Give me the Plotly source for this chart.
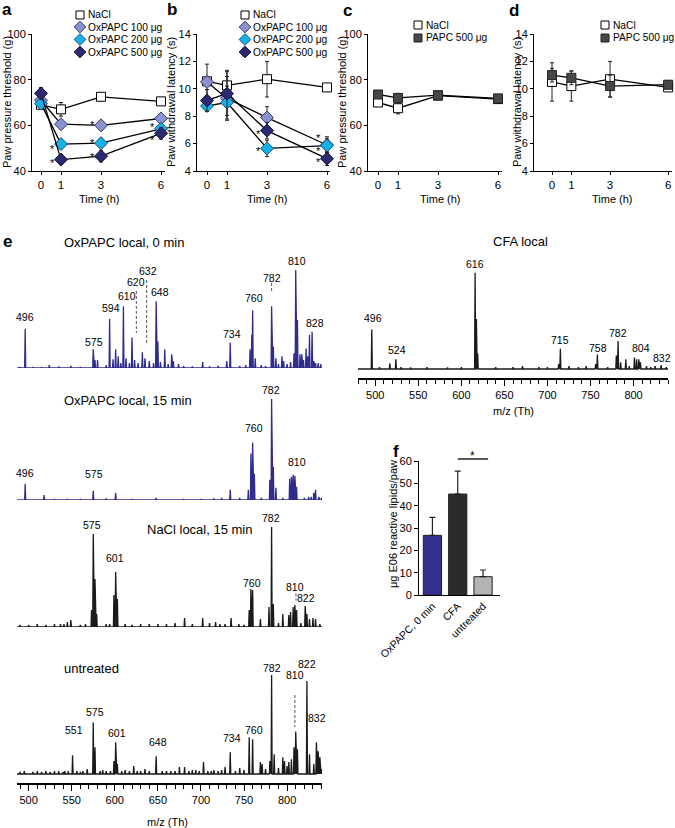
import plotly.graph_objects as go

W, H = 675, 828
FONT = "Liberation Sans, Arial, Helvetica, sans-serif"

# ======================= DATA =======================
time_h = [0, 1, 3, 6]

# a: paw pressure threshold (g)
a_nacl = [69.0, 67.0, 72.5, 70.5]
a_nacl_err = [2.0, 3.0, 1.5, 1.5]
a_ox100 = [71.0, 60.5, 60.0, 63.0]
a_ox100_err = [2.0, 2.0, 2.0, 1.5]
a_ox200 = [69.5, 51.8, 52.2, 58.5]
a_ox200_err = [2.0, 2.0, 2.0, 2.0]
a_ox500 = [74.0, 45.0, 46.5, 56.5]
a_ox500_err = [2.5, 2.0, 2.5, 2.5]

# b: paw withdrawal latency (s)
b_nacl = [10.55, 10.25, 10.7, 10.1]
b_nacl_err = [1.25, 1.1, 1.3, 0.25]
b_ox100 = [10.5, 9.3, 7.9, 5.9]
b_ox100_err = [0.3, 1.6, 0.8, 0.6]
b_ox200 = [8.75, 9.0, 5.65, 5.85]
b_ox200_err = [0.25, 1.2, 0.6, 0.5]
b_ox500 = [9.15, 9.65, 6.95, 4.9]
b_ox500_err = [0.8, 1.6, 0.6, 0.5]

# c: paw pressure threshold (g), PAPC control
c_nacl = [70.0, 67.5, 73.0, 71.5]
c_nacl_err = [1.5, 2.5, 1.0, 1.0]
c_papc = [73.5, 72.0, 73.2, 71.8]
c_papc_err = [1.5, 2.0, 1.0, 0.8]

# d: paw withdrawal latency (s), PAPC control
d_nacl = [10.5, 10.2, 10.7, 10.1]
d_nacl_err = [1.4, 1.1, 1.3, 0.2]
d_papc = [11.0, 10.8, 10.2, 10.3]
d_papc_err = [0.5, 0.5, 0.8, 0.3]

# significance stars: (series, time, y offset)
a_stars = [("ox200", 1, -0.8), ("ox500", 1, 0.0), ("ox100", 3, 1.5), ("ox200", 3, 1.5),
           ("ox500", 3, 0.8), ("ox200", 6, 1.9), ("ox500", 6, -1.6)]
b_stars = [("ox500", 3, 0.0), ("ox200", 3, 0.0), ("ox100", 6, 0.7), ("ox200", 6, -0.2),
           ("ox500", 6, 0.0)]

# e: mass spectra (m/z, relative intensity %)
ox0_mz = [490, 496, 505, 515, 524, 535, 549, 560, 575, 577, 580, 590, 594, 598, 601, 604, 607, 610,
          613, 617, 620, 623, 627, 632, 635, 640, 645, 648, 650, 653, 658, 662, 666, 668, 674, 680,
          690, 702, 710, 720, 730, 734, 745, 752, 757, 759, 760, 763, 770, 775, 782, 784, 787, 790,
          794, 796, 800, 804, 808, 810, 812, 815, 817, 819, 822, 824, 826, 829, 831, 833, 836, 839]
ox0_int = [1, 40, 1, 1, 3, 1.5, 2, 1, 19, 8, 8, 3, 50, 9, 19, 12, 5, 63,
           10, 5, 31, 8, 5, 16, 10, 7, 5, 68, 27, 6, 19, 4, 14, 7, 4, 2,
           1.5, 6, 1.5, 2, 7, 26, 2, 3, 19, 34, 59, 10, 3, 2, 63, 22, 10, 4,
           12, 7, 4, 6, 15, 100, 49, 14, 14, 8, 20, 12, 34, 37, 7, 5, 5, 4]

ox15_mz = [496, 518, 530, 545, 560, 575, 590, 601, 620, 648, 680, 700, 715, 724, 734, 745, 755, 758,
           760, 762, 770, 780, 782, 784, 787, 795, 803, 805, 807, 809, 811, 820, 825, 828, 831, 833,
           837, 840]
ox15_int = [16, 5, 1, 1, 1, 9, 1.5, 7, 1, 2, 1, 1, 1.5, 2, 10, 2, 10, 46,
            57, 26, 2, 20, 100, 33, 12, 2, 21, 23, 25, 24, 13, 2, 3, 3, 7, 10,
            3, 2]

nacl_mz = [490, 500, 510, 520, 530, 537, 541, 545, 549, 560, 566, 573, 575, 577, 579, 590, 594, 599,
           601, 603, 612, 620, 630, 640, 650, 660, 670, 681, 690, 702, 710, 717, 722, 728, 735, 744,
           750, 756, 758, 760, 769, 779, 782, 784, 790, 795, 802, 804, 807, 809, 811, 816, 821, 823,
           826, 830, 833, 838]
nacl_int = [2, 2, 3, 2, 3, 3, 3, 5, 7, 2, 3, 17, 93, 48, 13, 3, 3, 32,
            55, 28, 3, 2, 3, 3, 3, 3, 4, 9, 3, 9, 4, 5, 3, 3, 9, 3,
            2, 17, 38, 37, 8, 20, 100, 23, 4, 13, 12, 15, 20, 22, 17, 4, 21, 13,
            8, 9, 8, 3]

untr_mz = [490, 495, 505, 510, 515, 520, 525, 530, 535, 540, 542, 546, 551, 556, 560, 563, 568, 575,
           577, 583, 586, 590, 595, 599, 601, 603, 608, 612, 617, 622, 626, 630, 635, 640, 648, 655,
           660, 665, 670, 675, 681, 686, 690, 694, 698, 703, 708, 712, 715, 720, 724, 728, 734, 740,
           745, 750, 756, 760, 769, 771, 775, 780, 782, 785, 790, 795, 797, 800, 802, 805, 808, 810,
           812, 823, 826, 831, 834, 836, 838, 840]
untr_int = [2, 3, 2, 3, 2, 3, 2, 3, 3, 2, 3, 3, 19, 3, 2, 3, 5, 52,
            27, 3, 4, 3, 3, 13, 32, 10, 3, 4, 3, 8, 3, 3, 5, 3, 18, 3,
            3, 3, 3, 7, 7, 3, 4, 4, 3, 12, 3, 3, 4, 3, 4, 7, 22, 3,
            6, 4, 37, 35, 12, 10, 5, 13, 100, 20, 6, 17, 13, 8, 12, 15, 27, 43,
            25, 94, 20, 10, 32, 23, 17, 5]

cfa_mz = [496, 505, 517, 524, 530, 541, 560, 584, 600, 616, 617.5, 619, 640, 660, 671, 690, 700, 713,
          715, 725, 736, 745, 756, 758, 770, 780, 782, 785, 791, 795, 801, 803.5, 806, 808, 815, 820,
          825, 832, 838]
cfa_int = [41, 2, 6, 10, 2, 1.5, 2, 1.5, 2, 100, 52, 16, 2, 2, 3, 2, 2, 5,
           21, 3, 2, 3, 5, 15, 2, 14, 29, 7, 10, 3, 12, 10, 10, 7, 3, 2,
           3, 4, 2]

# peak labels: (text, m/z position, label height in intensity units)
ox0_labels = [("496", 496, 52), ("575", 576, 26.5), ("594", 596, 61), ("610", 614, 73.5),
              ("620", 625, 87.5), ("632", 639, 99), ("648", 652, 77.5), ("734", 736, 34.7),
              ("760", 761, 71.4), ("782", 782, 91.8), ("810", 811, 109), ("828", 832, 46)]
ox15_labels = [("496", 496, 26.7), ("575", 576, 25.7), ("760", 761, 71.3), ("782", 781, 109),
               ("810", 811, 37.6)]
nacl_labels = [("575", 574, 102), ("601", 600, 69), ("760", 759, 44), ("782", 781, 109),
               ("810", 809, 40.3), ("822", 822.5, 28.7)]
untr_labels = [("551", 552.5, 44.4), ("575", 577, 62.6), ("601", 603, 41.4), ("648", 650, 32.3),
               ("734", 736, 36.4), ("760", 761, 44.4), ("782", 782, 107), ("810", 809, 100),
               ("822", 823, 111), ("832", 834.5, 56.6)]
cfa_labels = [("496", 497.5, 53), ("524", 525.5, 19.7), ("616", 616, 109), ("715", 714.5, 30),
              ("758", 758.5, 21.8), ("782", 782, 37.4), ("804", 808.5, 21.8), ("832", 833, 11.4)]

# dashed leader lines: (m/z, from, to) in intensity units
ox0_dashes = [(625, 78.6, 35.7), (637, 89.8, 23.5), (782, 86.7, 77.5)]
nacl_dashes = [(810.3, 33.5, 26.5)]
untr_dashes = [(809, 79.8, 47.5)]

# f: E06 reactive lipids
f_groups = ["OxPAPC, 0 min", "CFA", "untreated"]
f_values = [26.7, 45.2, 8.2]
f_err = [8.1, 10.3, 3.0]

# ======================= STYLE / LAYOUT =======================
C_NACL = "white"
C_OX100 = "#8993cf"
C_OX200 = "#17b1ea"
C_OX500 = "#2d2970"
C_PAPC = "#474747"
C_BLUE = "#2f2c8c"
C_BLACK = "#1a1a1a"
F_COLORS = ["#33308f", "#2b2b2b", "#b4b4b4"]


def fx(p):
    return p / W


def fy(p):
    return 1 - p / H


def A(n, letter):
    return letter + "axis" if n == 1 else f"{letter}axis{n}"


def R(n, letter):
    return letter if n == 1 else f"{letter}{n}"


fig = go.Figure()
L = dict(template="none", width=W, height=H, autosize=False,
         margin=dict(l=0, r=0, t=0, b=0, pad=0, autoexpand=False), paper_bgcolor="white",
         plot_bgcolor="rgba(0,0,0,0)", showlegend=False,
         font=dict(family=FONT, color="black", size=11))
ann = []
shp = []

AXB = dict(showline=True, linecolor="black", linewidth=1, showgrid=False, zeroline=False,
           automargin=False, ticks="outside", ticklen=4, tickwidth=1, tickcolor="black",
           tickfont=dict(size=11, color="black"), fixedrange=True)


def behaviour_axes(n, x0, x1, xr, yr, yt):
    L[A(n, "x")] = dict(AXB, domain=[fx(x0), fx(x1)], range=xr, anchor=R(n, "y"), tickvals=time_h,
                        ticklen=3, tickfont=dict(size=11.5, color="black"))
    L[A(n, "y")] = dict(AXB, domain=[fy(171), fy(34)], range=yr, anchor=R(n, "x"), tickvals=yt,
                        ticklen=3)


def series(n, y, err, symbol, fill, edge, size):
    fig.add_trace(go.Scatter(
        x=time_h, y=y, xaxis=R(n, "x"), yaxis=R(n, "y"), mode="lines+markers",
        line=dict(color="black", width=1.3),
        marker=dict(symbol=symbol, size=size, color=fill, line=dict(color=edge, width=1)),
        error_y=dict(type="data", array=err, visible=True, color="#222222", thickness=1, width=2),
        cliponaxis=False, hoverinfo="skip"))


def stars(n, spec, table, dx):
    for key, t, dy in spec:
        i = time_h.index(t)
        ann.append(dict(text="*", x=t + dx, y=table[key][i] + dy, xref=R(n, "x"), yref=R(n, "y"),
                        showarrow=False, font=dict(size=11), yshift=-3))


# panel a
behaviour_axes(1, 32, 165, [-0.45, 6.2], [40, 100], [40, 60, 80, 100])
series(1, a_nacl, a_nacl_err, "square", C_NACL, "black", 9)
series(1, a_ox100, a_ox100_err, "diamond", C_OX100, "#3a3a6a", 10)
series(1, a_ox200, a_ox200_err, "diamond", C_OX200, "#1d4f7a", 10)
series(1, a_ox500, a_ox500_err, "diamond", C_OX500, "#15123a", 10)
stars(1, a_stars, {"ox100": a_ox100, "ox200": a_ox200, "ox500": a_ox500}, -0.42)

# panel b
behaviour_axes(2, 197, 330, [-0.5, 6.15], [4, 14], [4, 6, 8, 10, 12, 14])
series(2, b_nacl, b_nacl_err, "square", C_NACL, "black", 9)
series(2, b_ox100, b_ox100_err, "diamond", C_OX100, "#3a3a6a", 10)
series(2, b_ox200, b_ox200_err, "diamond", C_OX200, "#1d4f7a", 10)
series(2, b_ox500, b_ox500_err, "diamond", C_OX500, "#15123a", 10)
stars(2, b_stars, {"ox100": b_ox100, "ox200": b_ox200, "ox500": b_ox500}, -0.42)

# panel c
behaviour_axes(3, 368, 502, [-0.5, 6.2], [40, 100], [40, 60, 80, 100])
series(3, c_nacl, c_nacl_err, "square", C_NACL, "black", 9)
series(3, c_papc, c_papc_err, "square", C_PAPC, "#222222", 9)

# panel d
behaviour_axes(4, 534, 672, [-0.93, 6.2], [4, 14], [4, 6, 8, 10, 12, 14])
series(4, d_nacl, d_nacl_err, "square", C_NACL, "black", 9)
series(4, d_papc, d_papc_err, "square", C_PAPC, "#222222", 9)

# behaviour titles
for x, y, t in [(7, 102, "Paw pressure threshold (g)"), (171, 102, "Paw withdrawal latency (s)"),
                (342, 102, "Paw pressure threshold (g)"), (517, 102, "Paw withdrawal latency (s)")]:
    ann.append(dict(text=t, x=fx(x), y=fy(y), xref="paper", yref="paper", showarrow=False,
                    textangle=-90, font=dict(size=11), xanchor="center", yanchor="middle"))
for x in [99, 267, 440, 612]:
    ann.append(dict(text="Time (h)", x=fx(x), y=fy(199), xref="paper", yref="paper",
                    showarrow=False, font=dict(size=11), xanchor="center", yanchor="middle"))

# panel letters
for x, y, t in [(7, 9, "a"), (172, 9, "b"), (347, 10, "c"), (514, 10, "d"), (7, 242, "e"),
                (396, 451, "f")]:
    ann.append(dict(text="<b>" + t + "</b>", x=fx(x), y=fy(y), xref="paper", yref="paper",
                    showarrow=False, font=dict(size=17), xanchor="center", yanchor="middle"))

# legends (overlay axis in pixel units)
L["xaxis11"] = dict(domain=[0, 1], range=[0, W], visible=False, anchor="y11", fixedrange=True,
                    automargin=False)
L["yaxis11"] = dict(domain=[0, 1], range=[H, 0], visible=False, anchor="x11", fixedrange=True,
                    automargin=False)
legend_rows = [
    (80, 86, 15, "NaCl", "square", C_NACL, "black"),
    (80, 86, 27, "OxPAPC 100 μg", "diamond", C_OX100, "#3a3a6a"),
    (80, 86, 39.5, "OxPAPC 200 μg", "diamond", C_OX200, "#1d4f7a"),
    (80, 86, 52, "OxPAPC 500 μg", "diamond", C_OX500, "#15123a"),
    (245, 251, 15, "NaCl", "square", C_NACL, "black"),
    (245, 251, 27, "OxPAPC 100 μg", "diamond", C_OX100, "#3a3a6a"),
    (245, 251, 39.5, "OxPAPC 200 μg", "diamond", C_OX200, "#1d4f7a"),
    (245, 251, 52, "OxPAPC 500 μg", "diamond", C_OX500, "#15123a"),
    (418, 424, 25, "NaCl", "square", C_NACL, "black"),
    (418, 424, 38, "PAPC 500 μg", "square", C_PAPC, "#222222"),
    (605, 611, 25, "NaCl", "square", C_NACL, "black"),
    (605, 611, 38, "PAPC 500 μg", "square", C_PAPC, "#222222"),
]
for mx, tx, y, t, sym, fill, edge in legend_rows:
    fig.add_trace(go.Scatter(x=[mx], y=[y], xaxis="x11", yaxis="y11", mode="markers",
                             marker=dict(symbol=sym, size=8 if sym == "square" else 9, color=fill,
                                         line=dict(color=edge, width=1)),
                             hoverinfo="skip", cliponaxis=False))
    ann.append(dict(text=t, x=fx(tx), y=fy(y), xref="paper", yref="paper", showarrow=False,
                    font=dict(size=10.2), xanchor="left", yanchor="middle"))

# ---------------- spectra ----------------
LX = [486.5, 840.5]
RX = [480, 840]
YMAX = 116


def spectrum(n, mz, inten, color, xdom, xr, base_px, scale, axis_px=None):
    if axis_px is None:
        ymin, bottom = 0, base_px
    else:
        ymin, bottom = -(axis_px - base_px) / scale, axis_px
    top = base_px - YMAX * scale
    L[A(n, "y")] = dict(domain=[fy(bottom), fy(top)], range=[ymin, YMAX], visible=False,
                        anchor=R(n, "x"), fixedrange=True, automargin=False)
    if axis_px is None:
        L[A(n, "x")] = dict(domain=[fx(xdom[0]), fx(xdom[1])], range=xr, visible=False,
                            anchor=R(n, "y"), fixedrange=True, automargin=False)
    else:
        L[A(n, "x")] = dict(domain=[fx(xdom[0]), fx(xdom[1])], range=xr, anchor=R(n, "y"),
                            showline=True, linecolor="black", linewidth=1.5, showgrid=False,
                            zeroline=False, ticks="outside", ticklen=6, tickwidth=1,
                            tickcolor="black", tick0=500, dtick=50, automargin=False,
                            minor=dict(ticks="outside", ticklen=4, tickwidth=1, tickcolor="black",
                                       dtick=10, tick0=490, showgrid=False),
                            tickfont=dict(size=11, color="black"), fixedrange=True)
    pairs = sorted(zip(mz, inten))
    xs, ys = [xr[0]], [0]
    for m, v in pairs:
        xs += [m - 0.6, m, m + 0.6]
        ys += [0, v, 0]
    xs.append(xr[1])
    ys.append(0)
    fig.add_trace(go.Scatter(x=xs, y=ys, xaxis=R(n, "x"), yaxis=R(n, "y"), mode="lines",
                             fill="tozeroy", fillcolor=color, line=dict(color=color, width=1.3),
                             hoverinfo="skip"))


def peak_labels(n, labels, dashes):
    for t, x, lev in labels:
        ann.append(dict(text=t, x=x, y=lev, xref=R(n, "x"), yref=R(n, "y"), showarrow=False,
                        font=dict(size=10.5), xanchor="center", yanchor="middle"))
    for x, y0, y1 in dashes:
        shp.append(dict(type="line", x0=x, x1=x, y0=y0, y1=y1, xref=R(n, "x"), yref=R(n, "y"),
                        line=dict(color="#555555", width=1, dash="3px,2px")))


spectrum(5, ox0_mz, ox0_int, C_BLUE, (17, 322), LX, 368, 0.98)
peak_labels(5, ox0_labels, ox0_dashes)
spectrum(6, ox15_mz, ox15_int, C_BLUE, (17, 322), LX, 500, 1.01)
peak_labels(6, ox15_labels, [])
spectrum(7, nacl_mz, nacl_int, C_BLACK, (17, 322), LX, 627, 1.0)
peak_labels(7, nacl_labels, nacl_dashes)
spectrum(8, untr_mz, untr_int, C_BLACK, (17, 322), LX, 774, 0.99, axis_px=783)
peak_labels(8, untr_labels, untr_dashes)
spectrum(9, cfa_mz, cfa_int, C_BLACK, (358, 668), RX, 369, 0.963, axis_px=378)
peak_labels(9, cfa_labels, [])

for x, y, t, anchor in [(62, 243, "OxPAPC local, 0 min", "left"),
                        (62, 401, "OxPAPC local, 15 min", "left"),
                        (145, 529, "NaCl local, 15 min", "left"),
                        (62, 668, "untreated", "left"),
                        (520, 242, "CFA local", "center")]:
    ann.append(dict(text=t, x=fx(x), y=fy(y), xref="paper", yref="paper", showarrow=False,
                    font=dict(size=13), xanchor=anchor, yanchor="middle"))
for x, y in [(167, 822), (513, 411)]:
    ann.append(dict(text="m/z (Th)", x=fx(x), y=fy(y), xref="paper", yref="paper",
                    showarrow=False, font=dict(size=11), xanchor="center", yanchor="middle"))

# ---------------- panel f ----------------
f_idx = list(range(len(f_groups)))
L["xaxis10"] = dict(domain=[fx(419), fx(500)], range=[-0.53, 2.67], anchor="y10", tickvals=f_idx,
                    ticktext=f_groups, tickangle=-45, showline=True, linecolor="black",
                    linewidth=1, ticks="", showgrid=False, zeroline=False, automargin=False,
                    tickfont=dict(size=10.5, color="black"), fixedrange=True)
L["yaxis10"] = dict(AXB, domain=[fy(595), fy(461)], range=[0, 60], anchor="x10",
                    tickvals=[0, 10, 20, 30, 40, 50, 60])
fig.add_trace(go.Bar(x=f_idx, y=f_values, width=0.72, xaxis="x10", yaxis="y10",
                     marker=dict(color=F_COLORS, line=dict(color="#222222", width=1)),
                     error_y=dict(type="data", symmetric=False, array=f_err,
                                  arrayminus=[0] * len(f_err), color="#222222", thickness=1.2,
                                  width=3),
                     hoverinfo="skip"))
shp.append(dict(type="line", x0=1.0, x1=2.2, y0=fy(459), y1=fy(459), xref="x10", yref="paper",
                line=dict(color="black", width=1.3)))
ann.append(dict(text="*", x=1.6, y=60, xref="x10", yref="y10", showarrow=False,
                font=dict(size=12), yshift=5))
ann.append(dict(text="μg E06 reactive lipids/paw", x=fx(393), y=fy(524), xref="paper",
                yref="paper", showarrow=False, textangle=-90, font=dict(size=11),
                xanchor="center", yanchor="middle"))

L["annotations"] = ann
L["shapes"] = shp
fig.update_layout(**L)
fig.write_html("out.html", config={"displayModeBar": False, "staticPlot": True},
               post_script="document.body.style.margin='0';document.body.style.padding='0';"
                           "document.documentElement.style.overflow='hidden';")
